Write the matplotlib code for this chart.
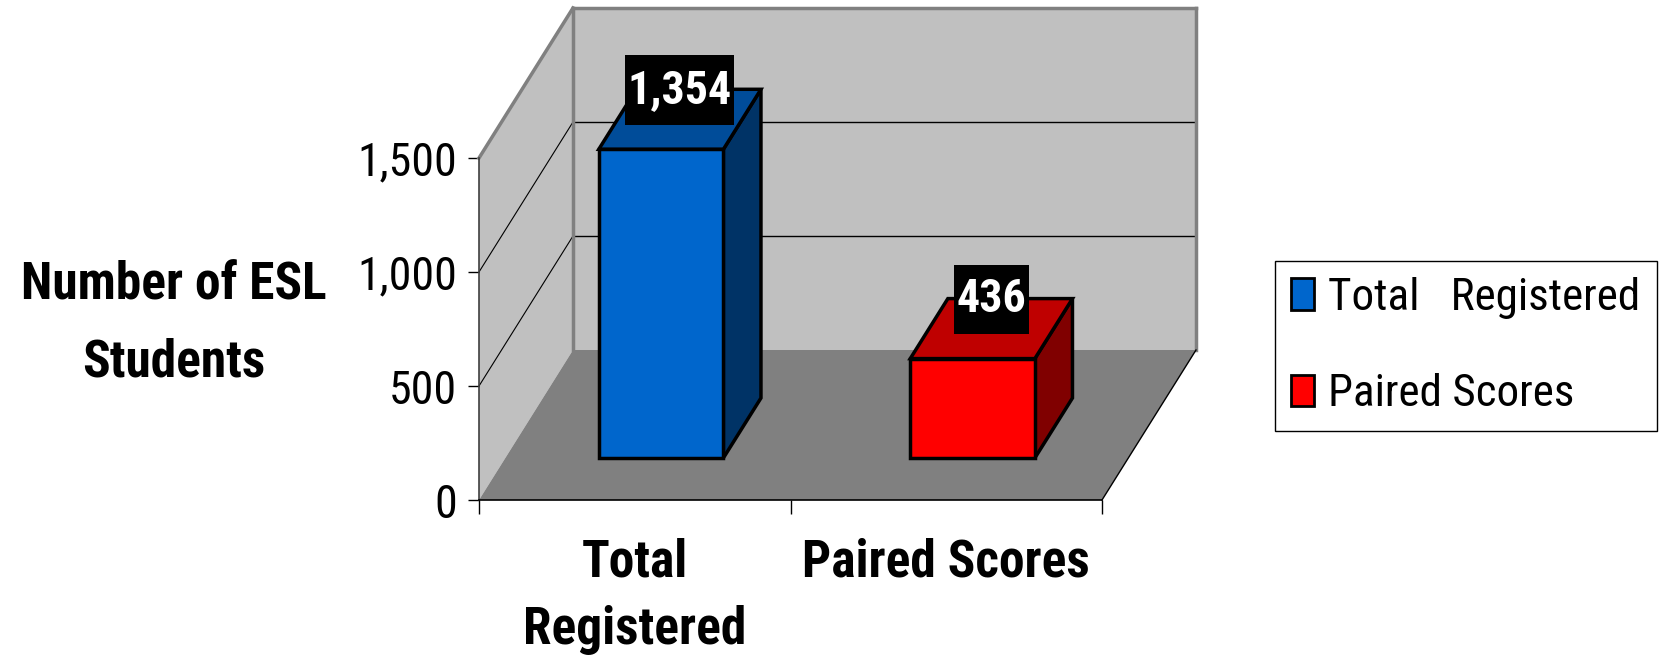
import numpy as np
import matplotlib
matplotlib.use('Agg')
import matplotlib.pyplot as plt
from matplotlib import font_manager
from matplotlib.patches import Polygon, Patch
from matplotlib.path import Path

categories = ['Total\nRegistered', 'Paired Scores']
series_names = ['Total   Registered', 'Paired Scores']
values = [1354, 436]
value_labels = ['1,354', '436']
y_ticks = [0, 500, 1000, 1500]
y_tick_labels = ['0', '500', '1,000', '1,500']
y_label = 'Number of ESL\nStudents'

front_colors = ['#0066CC', '#FF0000']
top_colors = ['#004C99', '#BF0000']
side_colors = ['#003366', '#800000']

# the original uses a narrow face; take a condensed one if there is one
installed = {f.name for f in font_manager.fontManager.ttflist}
narrow = [f for f in ['Liberation Sans Narrow', 'Roboto Condensed', 'Open Sans Condensed']
          if f in installed]
if narrow:
    plt.rcParams['font.family'] = [narrow[0], 'Liberation Sans', 'DejaVu Sans']
    k = 1.0
else:
    plt.rcParams['font.family'] = ['Liberation Sans', 'DejaVu Sans']
    k = 0.8

W, H = 1665, 660
fig = plt.figure(figsize=(W / 100, H / 100), dpi=100)
# front plane of the 3d box
ax = fig.add_axes([479 / W, 1 - 500 / H, (1102 - 479) / W, (500 - 158) / H])
ax.set_xlim(0, 2)
ax.set_ylim(0, 1500)
for s in ax.spines.values():
    s.set_visible(False)

# oblique depth offset for full depth
DX = 94 / 311.5
DY = 1500 * 150 / 342


def proj(x, y, d):
    return (x + d * DX, y + d * DY)


def face(pts, fc, ec='none', lw=0, z=1):
    p = Polygon([proj(*q) for q in pts], closed=True, fc=fc, ec=ec, lw=lw,
                joinstyle='miter', clip_on=False, zorder=z)
    ax.add_patch(p)


def line(a, b, color='black', lw=1, z=2):
    pa, pb = proj(*a), proj(*b)
    ax.plot([pa[0], pb[0]], [pa[1], pb[1]], color=color, lw=lw, clip_on=False,
            zorder=z, solid_capstyle='projecting')


def label_box(x0, y0, width, height, mutation_size):
    # tight at the sides, roomy above and below, like the excel labels
    px, py = 0.05 * mutation_size, 0.28 * mutation_size
    x1, y1 = x0 + width + px, y0 + height + py
    x0, y0 = x0 - px, y0 - py
    return Path([(x0, y0), (x1, y0), (x1, y1), (x0, y1), (x0, y0)], closed=True)


ymax = y_ticks[-1]
n = len(categories)
# walls and floor
face([(0, 0, 1), (n, 0, 1), (n, ymax, 1), (0, ymax, 1)], '#C0C0C0')
face([(0, 0, 0), (0, 0, 1), (0, ymax, 1), (0, ymax, 0)], '#C0C0C0')
face([(0, 0, 0), (n, 0, 0), (n, 0, 1), (0, 0, 1)], '#808080')

for t in y_ticks[1:-1]:
    line((0, t, 1), (n, t, 1), lw=1)
    line((0, t, 0), (0, t, 1), lw=0.8)

grey = '#808080'
line((0, ymax, 1), (n, ymax, 1), color=grey, lw=2.5, z=3)
line((n, ymax, 1), (n, 0, 1), color=grey, lw=2.5, z=3)
line((0, ymax, 0), (0, ymax, 1), color=grey, lw=2.5, z=3)
line((0, 0, 1), (0, ymax, 1), color=grey, lw=2.5, z=3)
line((0, 0, 0), (0, ymax, 0), color='#404040', lw=1.2, z=3)
line((0, 0, 0), (n, 0, 0), lw=1.2, z=3)
line((n, 0, 0), (n, 0, 1), lw=1, z=3)

# bars
bw = 0.4
d0, d1 = 0.28, 0.68
for i, v in enumerate(values):
    x0 = i + 0.5 - bw / 2
    x1 = i + 0.5 + bw / 2
    face([(x1, 0, d0), (x1, 0, d1), (x1, v, d1), (x1, v, d0)], side_colors[i], 'black', 2.5, 4)
    face([(x0, v, d0), (x1, v, d0), (x1, v, d1), (x0, v, d1)], top_colors[i], 'black', 2.5, 4)
    face([(x0, 0, d0), (x1, 0, d0), (x1, v, d0), (x0, v, d0)], front_colors[i], 'black', 2.5, 5)
    ax.annotate(value_labels[i], xy=proj(i + 0.5, v, (d0 + d1) / 2),
                xytext=(0, 21), textcoords='offset points', ha='center', va='center',
                fontsize=33 * k, fontweight='bold', color='white', zorder=10,
                bbox=dict(boxstyle=label_box, fc='black', ec='none'),
                annotation_clip=False)

# axes ticks
ax.set_yticks(y_ticks)
ax.set_yticklabels(y_tick_labels, fontsize=33 * k)
ax.tick_params(axis='y', length=8, width=1, pad=8)
ax.set_xticks(np.arange(n + 1))
ax.set_xticklabels([])
ax.tick_params(axis='x', which='major', length=10, width=1)
ax.set_xticks(np.arange(n) + 0.5, minor=True)
ax.set_xticklabels(categories, minor=True, fontsize=37 * k, fontweight='bold', linespacing=1.45)
ax.tick_params(axis='x', which='minor', length=0, pad=27)

ax.set_ylabel(y_label, rotation=0, fontsize=37 * k, fontweight='bold', ha='center', va='center',
              linespacing=1.7)
ax.yaxis.set_label_coords((174 - 479) / 623, (500 - 324) / 342)

handles = [Patch(fc=front_colors[i], ec='black', lw=2) for i in range(n)]
fs = 32.5 * k
leg = fig.legend(handles, series_names, loc='center left',
                 bbox_to_anchor=(1275 / W, 1 - 346 / H), bbox_transform=fig.transFigure,
                 fontsize=fs, frameon=True, fancybox=False, edgecolor='black',
                 framealpha=1, handlelength=0.5 * 32.5 / fs, handleheight=0.69 * 32.5 / fs,
                 handletextpad=0.32 * 32.5 / fs, borderpad=0.36 * 32.5 / fs,
                 labelspacing=1.2 * 32.5 / fs, borderaxespad=0)
leg.get_frame().set_linewidth(1)

fig.savefig('out.png', dpi=100)
